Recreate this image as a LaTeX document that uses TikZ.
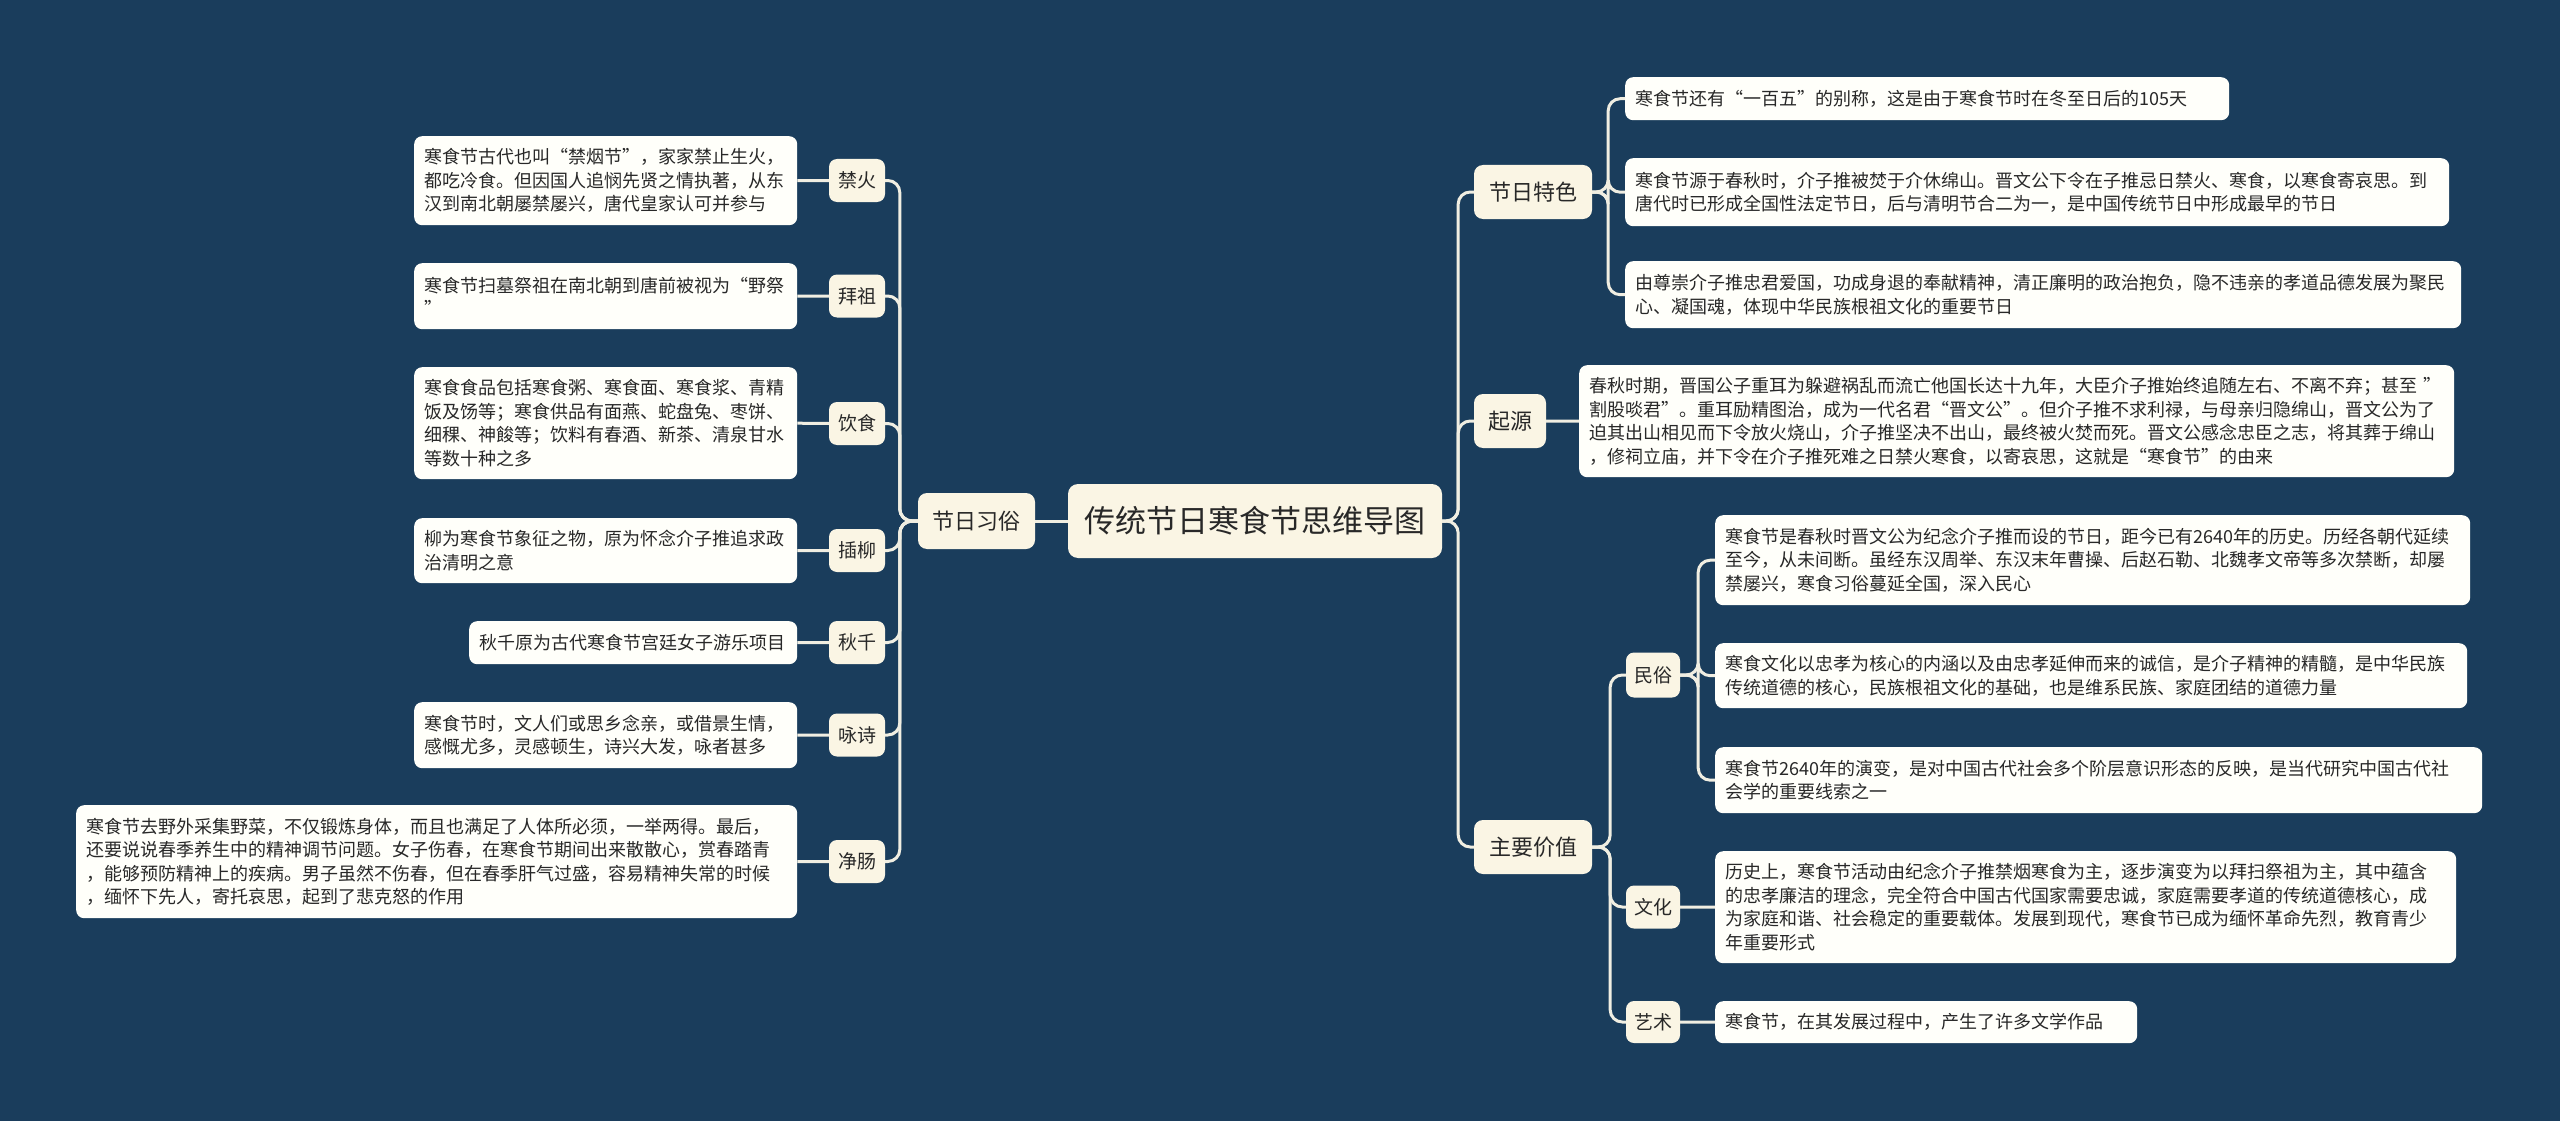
\documentclass[tikz,border=0pt]{standalone}
\usepackage{fontspec}
\setmainfont{Noto Sans CJK SC}
\definecolor{bg}{RGB}{26,61,92}
\definecolor{cream}{RGB}{250,245,228}
\definecolor{boxw}{RGB}{255,255,250}
\definecolor{linec}{RGB}{240,238,226}
\definecolor{txt}{RGB}{40,40,40}
\tikzset{
  conn/.style={draw=linec, line width=3pt, rounded corners=12pt},
  tbox/.style={fill=boxw, rounded corners=8pt, inner xsep=10pt, inner ysep=0pt, align=left, text=txt, anchor=north west, font=\fontsize{18}{23.5}\selectfont},
  lbox/.style={fill=cream, rounded corners=8pt, inner sep=0pt, text=txt, font=\fontsize{19}{22}\selectfont},
  mbox/.style={fill=cream, rounded corners=9pt, inner sep=0pt, text=txt, font=\fontsize{22}{26}\selectfont},
  cbox/.style={fill=cream, rounded corners=10pt, inner sep=0pt, text=txt, font=\fontsize{31}{36}\selectfont}
}
\newcommand\tnode[6]{\node[tbox, minimum height=#5pt, text width=#4pt] (#1) at (#2,#3) {#6};}
\newcommand\lnode[6]{\node[lbox, minimum width=#4pt, minimum height=#5pt] (#1) at (#2,#3) {#6};}
\begin{document}
\begin{tikzpicture}[x=1pt,y=-1pt]
\useasboundingbox (0,0) rectangle (2560,1121);
\fill[bg] (0,0) rectangle (2560,1121);

% central and main branches
\node[cbox, minimum width=374pt, minimum height=74pt] (c) at (1255,521) {传统节日寒食节思维导图};
\node[mbox, minimum width=117pt, minimum height=56pt] (L) at (976.5,521) {节日习俗};
\node[mbox, minimum width=118pt, minimum height=54pt] (R1) at (1533,192) {节日特色};
\node[mbox, minimum width=72pt, minimum height=54pt] (R2) at (1510,421) {起源};
\node[mbox, minimum width=118pt, minimum height=54pt] (R3) at (1533,847) {主要价值};

% left labels
\lnode{l1}{857}{180.5}{56}{43}{禁火}
\lnode{l2}{857}{296}{56}{43}{拜祖}
\lnode{l3}{857}{423.5}{56}{43}{饮食}
\lnode{l4}{857}{550.5}{56}{43}{插柳}
\lnode{l5}{857}{642.5}{56}{43}{秋千}
\lnode{l6}{857}{735}{56}{43}{咏诗}
\lnode{l7}{857}{861.5}{56}{43}{净肠}

% left texts
\tnode{t1}{414}{136}{363}{89}{寒食节古代也叫“禁烟节”，家家禁止生火，\\都吃冷食。但因国人追悯先贤之情执著，从东\\汉到南北朝屡禁屡兴，唐代皇家认可并参与}
\tnode{t2}{414}{263}{363}{66}{寒食节扫墓祭祖在南北朝到唐前被视为“野祭\\”}
\tnode{t3}{414}{367}{363}{112}{寒食食品包括寒食粥、寒食面、寒食浆、青精\\饭及饧等；寒食供品有面燕、蛇盘兔、枣饼、\\细稞、神餕等；饮料有春酒、新茶、清泉甘水\\等数十种之多}
\tnode{t4}{414}{518}{363}{65}{柳为寒食节象征之物，原为怀念介子推追求政\\治清明之意}
\tnode{t5}{469}{621}{308}{43}{秋千原为古代寒食节宫廷女子游乐项目}
\tnode{t6}{414}{702}{363}{66}{寒食节时，文人们或思乡念亲，或借景生情，\\感慨尤多，灵感顿生，诗兴大发，咏者甚多}
\tnode{t7}{76}{805}{701}{113}{寒食节去野外采集野菜，不仅锻炼身体，而且也满足了人体所必须，一举两得。最后，\\还要说说春季养生中的精神调节问题。女子伤春，在寒食节期间出来散散心，赏春踏青\\，能够预防精神上的疾病。男子虽然不伤春，但在春季肝气过盛，容易精神失常的时候\\，缅怀下先人，寄托哀思，起到了悲克怒的作用}

% right: 节日特色
\tnode{a1}{1625}{77}{584}{43}{寒食节还有“一百五”的别称，这是由于寒食节时在冬至日后的105天}
\tnode{a2}{1625}{158}{804}{68}{寒食节源于春秋时，介子推被焚于介休绵山。晋文公下令在子推忌日禁火、寒食，以寒食寄哀思。到\\唐代时已形成全国性法定节日，后与清明节合二为一，是中国传统节日中形成最早的节日}
\tnode{a3}{1625}{261}{816}{67}{由尊崇介子推忠君爱国，功成身退的奉献精神，清正廉明的政治抱负，隐不违亲的孝道品德发展为聚民\\心、凝国魂，体现中华民族根祖文化的重要节日}

% right: 起源
\tnode{b1}{1579}{365}{855}{112}{春秋时期，晋国公子重耳为躲避祸乱而流亡他国长达十九年，大臣介子推始终追随左右、不离不弃；甚至 ”\\割股啖君”。重耳励精图治，成为一代名君“晋文公”。但介子推不求利禄，与母亲归隐绵山，晋文公为了\\迫其出山相见而下令放火烧山，介子推坚决不出山，最终被火焚而死。晋文公感念忠臣之志，将其葬于绵山\\，修祠立庙，并下令在介子推死难之日禁火寒食，以寄哀思，这就是“寒食节”的由来}

% right: 主要价值
\lnode{m1}{1653}{675}{54}{45}{民俗}
\lnode{m2}{1653}{907}{54}{43}{文化}
\lnode{m3}{1653}{1022}{54}{42}{艺术}
\tnode{pA}{1715}{515}{735}{90}{寒食节是春秋时晋文公为纪念介子推而设的节日，距今已有2640年的历史。历经各朝代延续\\至今，从未间断。虽经东汉周举、东汉末年曹操、后赵石勒、北魏孝文帝等多次禁断，却屡\\禁屡兴，寒食习俗蔓延全国，深入民心}
\tnode{pB}{1715}{643}{732}{65}{寒食文化以忠孝为核心的内涵以及由忠孝延伸而来的诚信，是介子精神的精髓，是中华民族\\传统道德的核心，民族根祖文化的基础，也是维系民族、家庭团结的道德力量}
\tnode{pC}{1715}{747}{747}{66}{寒食节2640年的演变，是对中国古代社会多个阶层意识形态的反映，是当代研究中国古代社\\会学的重要线索之一}
\tnode{pD}{1715}{851}{721}{112}{历史上，寒食节活动由纪念介子推禁烟寒食为主，逐步演变为以拜扫祭祖为主，其中蕴含\\的忠孝廉洁的理念，完全符合中国古代国家需要忠诚，家庭需要孝道的传统道德核心，成\\为家庭和谐、社会稳定的重要载体。发展到现代，寒食节已成为缅怀革命先烈，教育青少\\年重要形式}
\tnode{pE}{1715}{1001}{402}{42}{寒食节，在其发展过程中，产生了许多文学作品}

% connectors
\draw[conn] (c.west) -- (L.east);
\foreach \n in {l1,l2,l3,l4,l5,l6,l7} \draw[conn] (L.west) -- ++(-18,0) |- (\n.east);
\draw[conn] (t1.east) -- (l1.west);
\draw[conn] (t2.east) -- (l2.west);
\draw[conn] (t3.east) -- (l3.west);
\draw[conn] (t4.east) -- (l4.west);
\draw[conn] (t5.east) -- (l5.west);
\draw[conn] (t6.east) -- (l6.west);
\draw[conn] (t7.east) -- (l7.west);

\foreach \n in {R1,R2,R3} \draw[conn] (c.east) -- ++(16,0) |- (\n.west);
\foreach \n in {a1,a2,a3} \draw[conn] (R1.east) -- ++(16,0) |- (\n.west);
\draw[conn] (R2.east) -- (b1.west);
\foreach \n in {m1,m2,m3} \draw[conn] (R3.east) -- ++(18,0) |- (\n.west);
\foreach \n in {pA,pB,pC} \draw[conn] (m1.east) -- ++(18,0) |- (\n.west);
\draw[conn] (m2.east) -- (pD.west);
\draw[conn] (m3.east) -- (pE.west);
\end{tikzpicture}
\end{document}
